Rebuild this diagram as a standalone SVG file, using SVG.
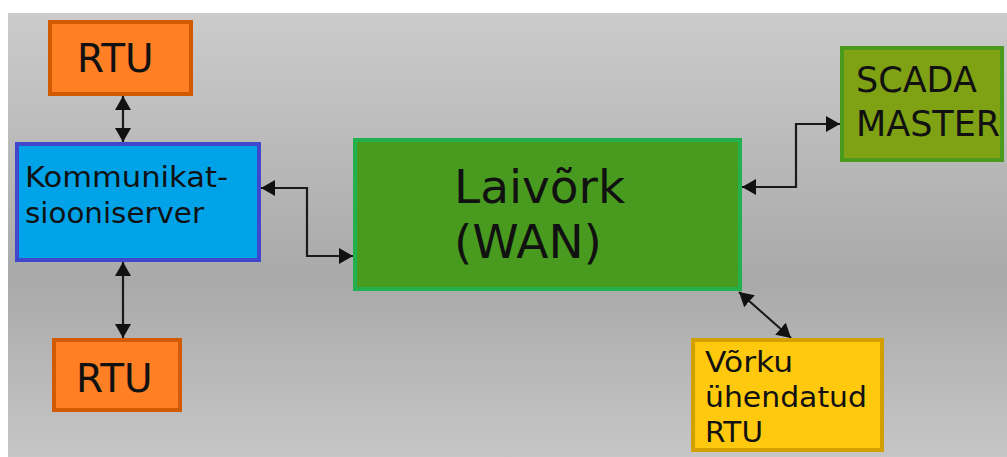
<svg xmlns="http://www.w3.org/2000/svg" width="1007" height="457" viewBox="0 0 1007 457">
  <style>
    .t { font-family: "DejaVu Sans", Verdana, sans-serif; fill: #111; }
    .conn { fill: none; stroke: #1a1a1a; stroke-width: 2.2; marker-start: url(#arr); marker-end: url(#arr); }
    .rtu { fill: #fe7f24; stroke: #d25a00; stroke-width: 4; }
  </style>
  <defs>
    <linearGradient id="bg" x1="0" y1="0" x2="0" y2="1">
      <stop offset="0" stop-color="#cbcbcb"/>
      <stop offset="0.6" stop-color="#a9a9a9"/>
      <stop offset="1" stop-color="#c6c6c6"/>
    </linearGradient>
    <marker id="arr" markerUnits="userSpaceOnUse" markerWidth="14" markerHeight="16" refX="14" refY="8" orient="auto-start-reverse" viewBox="0 0 14 16">
      <path d="M0,0 L14,8 L0,16 z" fill="#111"/>
    </marker>
  </defs>
  <rect x="0" y="0" width="1007" height="457" fill="#ffffff"/>
  <rect x="8" y="13" width="999" height="444" fill="url(#bg)"/>

  <g id="connectors">
    <path class="conn" d="M123,96 V142"/>
    <path class="conn" d="M123,262 V338"/>
    <path class="conn" d="M261,188 H307 V256 H353"/>
    <path class="conn" d="M742,187 H796 V124 H840"/>
    <path class="conn" d="M739,292 L791,338"/>
  </g>

  <g id="rtu-top">
    <rect class="rtu" x="50" y="22" width="141" height="72"/>
    <text class="t" x="77" y="72" font-size="39">RTU</text>
  </g>

  <g id="kommunikatsiooniserver">
    <rect x="17" y="144" width="242" height="116" fill="#00a2e8" stroke="#3f48cc" stroke-width="4"/>
    <text class="t" x="25" y="187" font-size="28" textLength="203" lengthAdjust="spacingAndGlyphs">Kommunikat-</text>
    <text class="t" x="25" y="223" font-size="28" textLength="179" lengthAdjust="spacingAndGlyphs">siooniserver</text>
  </g>

  <g id="rtu-bottom">
    <rect class="rtu" x="54" y="340" width="126" height="70"/>
    <text class="t" x="76" y="392" font-size="39">RTU</text>
  </g>

  <g id="laivork">
    <rect x="355" y="140" width="385" height="149" fill="#489b1f" stroke="#22b14c" stroke-width="4"/>
    <text class="t" x="454" y="203" font-size="47">Laivõrk</text>
    <text class="t" x="454" y="258" font-size="47">(WAN)</text>
  </g>

  <g id="scada-master">
    <rect x="842" y="48" width="160" height="112" fill="#7fa114" stroke="#4a9a1e" stroke-width="4"/>
    <text class="t" x="856" y="92" font-size="35">SCADA</text>
    <text class="t" x="856" y="136" font-size="35">MASTER</text>
  </g>

  <g id="vorku-uhendatud-rtu">
    <rect x="693" y="340" width="189" height="110" fill="#ffc90e" stroke="#d4a000" stroke-width="4"/>
    <text class="t" x="705" y="372" font-size="29" textLength="88" lengthAdjust="spacingAndGlyphs">Võrku</text>
    <text class="t" x="705" y="407" font-size="29" textLength="162" lengthAdjust="spacingAndGlyphs">ühendatud</text>
    <text class="t" x="705" y="442" font-size="29" textLength="58" lengthAdjust="spacingAndGlyphs">RTU</text>
  </g>
</svg>
